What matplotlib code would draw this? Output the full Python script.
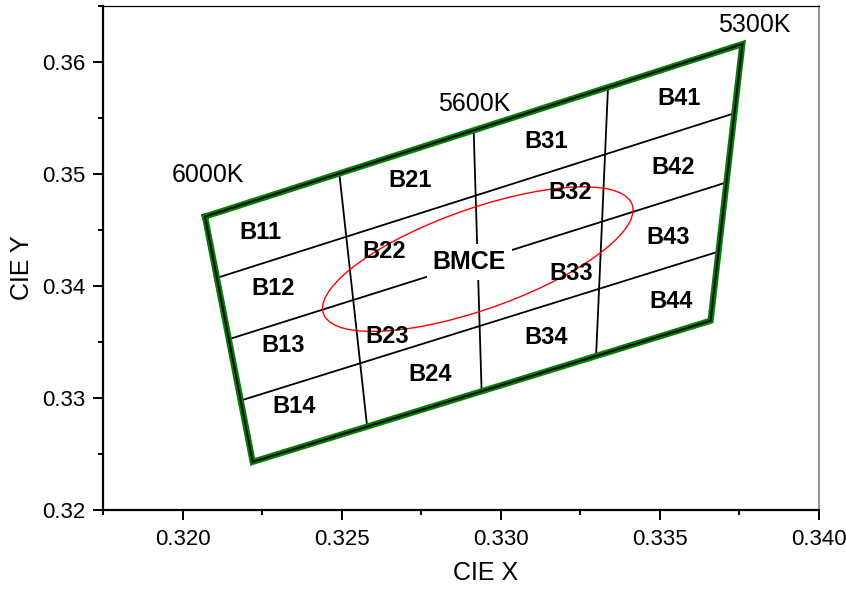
import numpy as np
from matplotlib import pyplot as plt
from matplotlib.patches import Ellipse
from matplotlib.ticker import MultipleLocator

# quadrangle corners (CIE x, y): top-left, top-right, bottom-right, bottom-left
corner_x = [0.3207, 0.3376, 0.3366, 0.3222]
corner_y = [0.3462, 0.3616, 0.3369, 0.3243]

# MacAdam style ellipse
ellipse_center = (0.32928, 0.34240)
ellipse_a = 0.00748
ellipse_b = 0.00309
ellipse_angle = 56.3

bin_names = ['B11', 'B12', 'B13', 'B14',
             'B21', 'B22', 'B23', 'B24',
             'B31', 'B32', 'B33', 'B34',
             'B41', 'B42', 'B43', 'B44']
bin_x = [0.32246, 0.32284, 0.32315, 0.32350,
         0.32715, 0.32633, 0.32642, 0.32779,
         0.33143, 0.33217, 0.33223, 0.33142,
         0.33560, 0.33541, 0.33526, 0.33535]
bin_y = [0.34476, 0.33980, 0.33468, 0.32921,
         0.34945, 0.34306, 0.33549, 0.33209,
         0.35291, 0.34838, 0.34112, 0.33542,
         0.35671, 0.35056, 0.34435, 0.33865]

cct_labels = ['6000K', '5600K', '5300K']
cct_x = [0.32078, 0.32918, 0.33799]
cct_y = [0.34994, 0.35628, 0.36328]

center_label = 'BMCE'
center_xy = (0.32902, 0.34216)

plt.rcParams['font.family'] = ['Liberation Sans', 'DejaVu Sans']

fig = plt.figure(figsize=(8.46, 5.89), dpi=100)
ax = fig.add_axes([0.122, 0.1341, 0.8457, 0.8557])

tl = np.array([corner_x[0], corner_y[0]])
tr = np.array([corner_x[1], corner_y[1]])
br = np.array([corner_x[2], corner_y[2]])
bl = np.array([corner_x[3], corner_y[3]])

# inner grid lines (quarters of opposite edges)
for f in [0.25, 0.5, 0.75]:
    p0 = tl + f * (bl - tl)
    p1 = tr + f * (br - tr)
    ax.plot([p0[0], p1[0]], [p0[1], p1[1]], color='black', lw=1.3, zorder=2)
    q0 = tl + f * (tr - tl)
    q1 = bl + f * (br - bl)
    ax.plot([q0[0], q1[0]], [q0[1], q1[1]], color='black', lw=1.3, zorder=2)

# outer border: green with black line on top
bx = corner_x + [corner_x[0]]
by = corner_y + [corner_y[0]]
ax.plot(bx, by, color='#008000', lw=4.5, solid_joinstyle='miter', zorder=3)
ax.plot(bx, by, color='black', lw=1.4, solid_joinstyle='miter', zorder=4)

ell = Ellipse(ellipse_center, 2 * ellipse_a, 2 * ellipse_b, angle=ellipse_angle,
              fill=False, edgecolor='red', lw=1.0, zorder=6)
ax.add_patch(ell)

for name, x, y in zip(bin_names, bin_x, bin_y):
    ax.text(x, y, name, fontsize=17, fontweight='bold', ha='center', va='center', zorder=7)

ax.text(center_xy[0], center_xy[1], center_label, fontsize=18, fontweight='bold',
        ha='center', va='center', zorder=5,
        bbox=dict(boxstyle='square,pad=0.25', fc='white', ec='none'))

for name, x, y in zip(cct_labels, cct_x, cct_y):
    ax.text(x, y, name, fontsize=18, ha='center', va='center', zorder=7)

ax.set_xlim(0.3175, 0.340)
ax.set_ylim(0.32, 0.365)
ax.xaxis.set_major_locator(MultipleLocator(0.005))
ax.xaxis.set_minor_locator(MultipleLocator(0.0025))
ax.yaxis.set_major_locator(MultipleLocator(0.01))
ax.yaxis.set_minor_locator(MultipleLocator(0.005))
ax.set_xticks([0.320, 0.325, 0.330, 0.335, 0.340])
ax.set_xticklabels(['0.320', '0.325', '0.330', '0.335', '0.340'])
ax.set_yticks([0.32, 0.33, 0.34, 0.35, 0.36])
ax.set_yticklabels(['0.32', '0.33', '0.34', '0.35', '0.36'])

ax.tick_params(which='major', direction='out', length=7.5, width=1.4, labelsize=16)
ax.tick_params(axis='x', which='major', pad=6)
ax.tick_params(axis='y', which='major', pad=5)
ax.tick_params(which='minor', direction='out', length=3.8, width=1.4)
ax.tick_params(top=False, right=False, which='both')

ax.spines['left'].set_linewidth(1.6)
ax.spines['bottom'].set_linewidth(1.6)
ax.spines['top'].set_linewidth(0.9)
ax.spines['right'].set_linewidth(1.2)
ax.spines['right'].set_color('#808080')

ax.set_xlabel('CIE X', fontsize=18)
ax.set_ylabel('CIE Y', fontsize=18)
ax.xaxis.set_label_coords(0.534, -0.125)
ax.yaxis.set_label_coords(-0.1135, 0.48)
ax.xaxis.label.set_va('center')
ax.yaxis.label.set_va('center')

plt.savefig('out.png', dpi=100)
